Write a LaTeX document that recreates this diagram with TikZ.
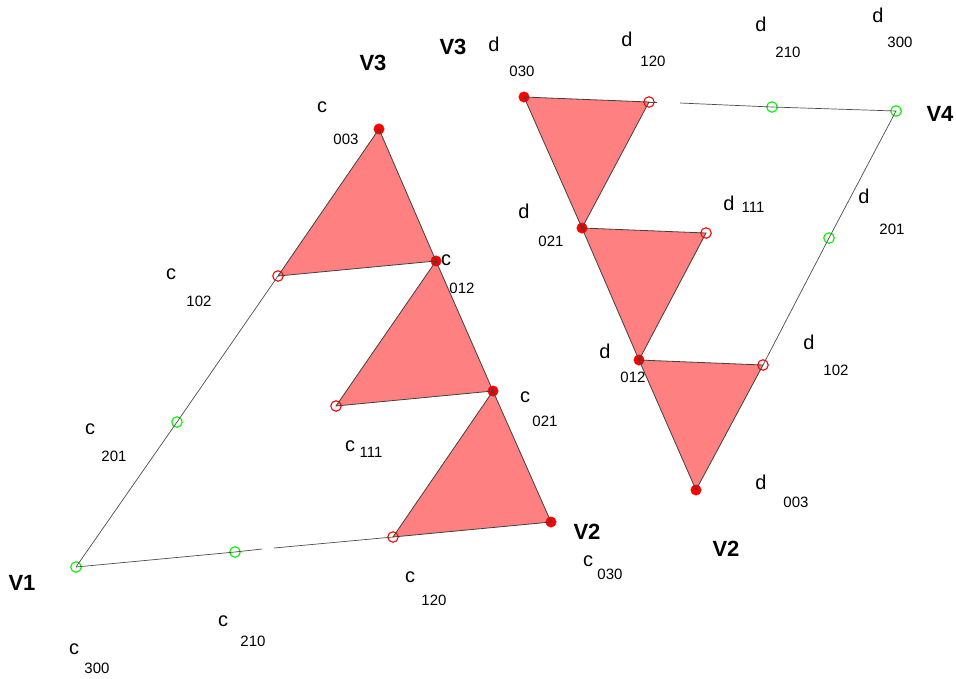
\documentclass[tikz,border=0pt]{standalone}
\usepackage{fontspec}
\setmainfont{Liberation Sans}
\begin{document}
\begin{tikzpicture}[
  x=1pt,
  y=-1pt,
  ctrlfull/.style={
    circle,
    fill=red,
    draw=red,
    inner sep=0pt,
    minimum size=10.5pt
  },
  ctrlopen/.style={
    circle,
    fill=none,
    draw=red,
    line width=1.1pt,
    inner sep=0pt,
    minimum size=10.5pt
  },
  ctrlfree/.style={
    circle,
    fill=none,
    draw=green!95!black,
    line width=1.1pt,
    inner sep=0pt,
    minimum size=10.5pt
  },
  patch/.style={
    fill=patchred
  },
  outline/.style={
    draw=black!75,
    line width=0.8pt
  },
  edge/.style={
    draw=black!70,
    line width=0.7pt
  },
  vertex/.style={font=\fontsize{22}{24}\selectfont\bfseries, inner sep=0pt},
  letter/.style={font=\fontsize{20}{22}\selectfont, inner sep=0pt},
  index/.style={font=\fontsize{15}{17}\selectfont, inner sep=0pt}
]
\definecolor{patchred}{RGB}{255,128,128}
\useasboundingbox (0,0) rectangle (956,678);

% Control points of the left patch.
\coordinate (c300pos) at (76,567);
\coordinate (c210pos) at (235,552);
\coordinate (c120pos) at (393,537);
\coordinate (c030pos) at (551,522);
\coordinate (c201pos) at (177,422);
\coordinate (c111pos) at (336,406);
\coordinate (c021pos) at (493,391);
\coordinate (c102pos) at (278,276);
\coordinate (c012pos) at (436,261);
\coordinate (c003pos) at (379,129);

% Control points of the right patch.
\coordinate (d030pos) at (524,97);
\coordinate (d120pos) at (649,102);
\coordinate (d210pos) at (772,107);
\coordinate (d300pos) at (896,111);
\coordinate (d021pos) at (582,228);
\coordinate (d111pos) at (706,233);
\coordinate (d201pos) at (829,238);
\coordinate (d012pos) at (639,360);
\coordinate (d102pos) at (763,365);
\coordinate (d003pos) at (696,490);

% Ends of the breaks in the two long edges.
\coordinate (cgapa) at (262,549);
\coordinate (cgapb) at (274,548);
\coordinate (dgapa) at (657,102);
\coordinate (dgapb) at (680,103);

% Shaded triangles.
\fill[patch] (c003pos) -- (c102pos) -- (c012pos) -- cycle;
\fill[patch] (c012pos) -- (c111pos) -- (c021pos) -- cycle;
\fill[patch] (c021pos) -- (c120pos) -- (c030pos) -- cycle;
\fill[patch] (d030pos) -- (d120pos) -- (d021pos) -- cycle;
\fill[patch] (d021pos) -- (d111pos) -- (d012pos) -- cycle;
\fill[patch] (d012pos) -- (d102pos) -- (d003pos) -- cycle;

% Markers.
\node[ctrlfree] (c300) at (c300pos) {};
\node[ctrlfree] (c210) at (c210pos) {};
\node[ctrlopen] (c120) at (c120pos) {};
\node[ctrlfull] (c030) at (c030pos) {};
\node[ctrlfree] (c201) at (c201pos) {};
\node[ctrlopen] (c111) at (c111pos) {};
\node[ctrlfull] (c021) at (c021pos) {};
\node[ctrlopen] (c102) at (c102pos) {};
\node[ctrlfull] (c012) at (c012pos) {};
\node[ctrlfull] (c003) at (c003pos) {};
\node[ctrlfull] (d030) at (d030pos) {};
\node[ctrlopen] (d120) at (d120pos) {};
\node[ctrlfree] (d210) at (d210pos) {};
\node[ctrlfree] (d300) at (d300pos) {};
\node[ctrlfull] (d021) at (d021pos) {};
\node[ctrlopen] (d111) at (d111pos) {};
\node[ctrlfree] (d201) at (d201pos) {};
\node[ctrlfull] (d012) at (d012pos) {};
\node[ctrlopen] (d102) at (d102pos) {};
\node[ctrlfull] (d003) at (d003pos) {};

% Triangle outlines, over the markers.
\draw[outline] (c003.center) -- (c102.center) -- (c012.center) -- cycle;
\draw[outline] (c012.center) -- (c111.center) -- (c021.center) -- cycle;
\draw[outline] (c021.center) -- (c120.center) -- (c030.center) -- cycle;
\draw[outline] (d030.center) -- (d120.center) -- (d021.center) -- cycle;
\draw[outline] (d021.center) -- (d111.center) -- (d012.center) -- cycle;
\draw[outline] (d012.center) -- (d102.center) -- (d003.center) -- cycle;

% Outer edges.
\draw[edge] (c300.center) -- (c201.center) -- (c102.center);
\draw[edge] (c300.center) -- (c210.center) -- (cgapa);
\draw[edge] (cgapb) -- (c120.center);
\draw[edge] (d120.center) -- (dgapa);
\draw[edge] (dgapb) -- (d210.center) -- (d300.center) -- (d201.center) -- (d102.center);

% Corner names.
\node[vertex] (vonel) at (22,583) {V1};
\node[vertex] (vtwol) at (587,532) {V2};
\node[vertex] (vthreel) at (373,63) {V3};
\node[vertex] (vthreer) at (453,47) {V3};
\node[vertex] (vfourr) at (940,114) {V4};
\node[vertex] (vtwor) at (726,549) {V2};

% Labels of the left patch.
\node[letter] (c003let) at (322,107) {c};
\node[index] (c003idx) at (346,139) {003};
\node[letter] (c102let) at (171,274) {c};
\node[index] (c102idx) at (199,301) {102};
\node[letter] (c201let) at (90,429) {c};
\node[index] (c201idx) at (114,456) {201};
\node[letter] (c300let) at (74,649) {c};
\node[index] (c300idx) at (97,668) {300};
\node[letter] (c210let) at (223,621) {c};
\node[index] (c210idx) at (253,641) {210};
\node[letter] (c120let) at (410,577) {c};
\node[index] (c120idx) at (434,600) {120};
\node[letter] (c030let) at (588,561) {c};
\node[index] (c030idx) at (610,574) {030};
\node[letter] (c111let) at (350,446) {c};
\node[index] (c111idx) at (371,452) {111};
\node[letter] (c021let) at (525,397) {c};
\node[index] (c021idx) at (545,421) {021};
\node[letter] (c012let) at (446,260) {c};
\node[index] (c012idx) at (462,288) {012};

% Labels of the right patch.
\node[letter] (d030let) at (494,44) {d};
\node[index] (d030idx) at (522,71) {030};
\node[letter] (d120let) at (627,39) {d};
\node[index] (d120idx) at (653,61) {120};
\node[letter] (d210let) at (761,24) {d};
\node[index] (d210idx) at (788,52) {210};
\node[letter] (d300let) at (878,15) {d};
\node[index] (d300idx) at (900,42) {300};
\node[letter] (d021let) at (524,211) {d};
\node[index] (d021idx) at (551,241) {021};
\node[letter] (d111let) at (729,203) {d};
\node[index] (d111idx) at (753,207) {111};
\node[letter] (d201let) at (864,196) {d};
\node[index] (d201idx) at (892,229) {201};
\node[letter] (d012let) at (605,351) {d};
\node[index] (d012idx) at (633,377) {012};
\node[letter] (d102let) at (809,342) {d};
\node[index] (d102idx) at (836,370) {102};
\node[letter] (d003let) at (761,482) {d};
\node[index] (d003idx) at (796,502) {003};

\end{tikzpicture}
\end{document}
